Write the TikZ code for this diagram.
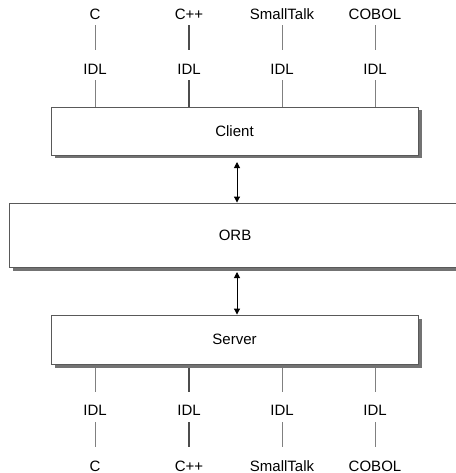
\documentclass[tikz,border=0pt]{standalone}
\usepackage{fontspec}
\setmainfont{Liberation Sans}
\usetikzlibrary{arrows.meta,shadows}
\begin{document}
\begin{tikzpicture}[x=1pt,y=-1pt,
  lbl/.style={inner sep=0pt,text height=10.7pt,text depth=0pt,font=\fontsize{15}{15}\selectfont},
  layer/.style={draw=black!65,line width=0.9pt,fill=white,inner sep=0pt,
    font=\fontsize{15}{15}\selectfont,
    general shadow={fill=black!55,shadow xshift=3.5pt,shadow yshift=-3.5pt}},
  conn/.style={draw=black!50,line width=0.9pt},
  conn2/.style={draw=black!70,line width=1.15pt},
  biarrow/.style={draw=black,line width=1pt,{Triangle[length=6pt,width=6pt]}-{Triangle[length=6pt,width=6pt]}}
]
\useasboundingbox (0,0) rectangle (455,473);
% boxes
\node[layer,minimum width=367pt,minimum height=48pt] (client) at (234.5,131) {Client};
\node[layer,minimum width=452pt,minimum height=64pt] (orb) at (235,235) {ORB};
\node[layer,minimum width=367pt,minimum height=49pt] (server) at (234.5,339.5) {Server};
% labels
\foreach \n/\x/\t in {a/95/C,b/189/C++,c/282/SmallTalk,d/375/COBOL}{
  \node[lbl] (tl\n) at (\x,14) {\t};
  \node[lbl] (ti\n) at (\x,69.5) {IDL};
  \node[lbl] (bi\n) at (\x,410) {IDL};
  \node[lbl] (bl\n) at (\x,466) {\t};
}
\foreach \n in {a,c,d}{
  \draw[conn,shorten <=5.5pt,shorten >=13.5pt] (tl\n.south) -- (ti\n.north);
  \draw[conn,shorten <=5pt] (ti\n.south) -- (ti\n.south |- client.north);
  \draw[conn,shorten <=3.5pt,shorten >=12.5pt] (bi\n.north |- server.south) -- (bi\n.north);
  \draw[conn,shorten <=6.5pt,shorten >=13.5pt] (bi\n.south) -- (bl\n.north);
}
\draw[conn2,shorten <=5.5pt,shorten >=13.5pt] (tlb.south) -- (tib.north);
\draw[conn2,shorten <=5pt] (tib.south) -- (tib.south |- client.north);
\draw[conn2,shorten <=3.5pt,shorten >=12.5pt] (bib.north |- server.south) -- (bib.north);
\draw[conn2,shorten <=6.5pt,shorten >=13.5pt] (bib.south) -- (blb.north);
% arrows
\coordinate (a1) at (237,162);
\coordinate (a2) at (237,272);
\draw[biarrow] (a1) -- (a1 |- orb.north);
\draw[biarrow] (a2) -- (a2 |- server.north);
\end{tikzpicture}
\end{document}
